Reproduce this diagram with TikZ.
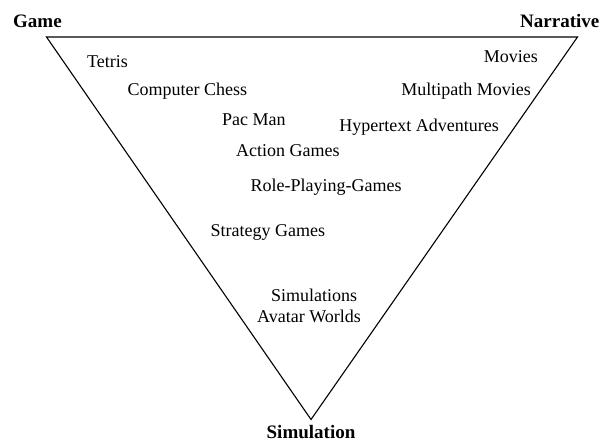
\documentclass[tikz,border=0pt]{standalone}
\usepackage{fontspec}
\setmainfont{Liberation Serif}
\begin{document}
\begin{tikzpicture}[x=1pt,y=-1pt,
  item/.style={anchor=base west,inner sep=0pt,font=\fontsize{18}{20}\selectfont},
  corner/.style={inner sep=0pt,font=\bfseries\fontsize{19}{21}\selectfont},
  edge/.style={draw=black,line width=1.1pt,line join=miter}]
\useasboundingbox (0,0) rectangle (601,442);
\coordinate (tl) at (46.5,37);
\coordinate (tr) at (577.5,37);
\coordinate (bt) at (311,419.5);
\draw[edge] (tl) -- (tr) -- (bt) -- cycle;
\node[corner,anchor=base west] (game) at (13,27) {Game};
\node[corner,anchor=base east] (narr) at (599.5,27) {Narrative};
\node[corner,anchor=base] (sim) at (311,438) {Simulation};
\node[item] (tetris) at (87,67) {Tetris};
\node[item] (chess) at (127.5,95) {Computer Chess};
\node[item] (pac) at (222,125) {Pac Man};
\node[item] (action) at (236,156) {Action Games};
\node[item] (rpg) at (250.5,191) {Role-Playing-Games};
\node[item] (strat) at (210.5,236) {Strategy Games};
\node[item,anchor=base] (sims) at (314,301) {Simulations};
\node[item,anchor=base] (avatar) at (309,322) {Avatar Worlds};
\node[item,anchor=base east] (movies) at (538,62) {Movies};
\node[item,anchor=base east] (multi) at (531,95) {Multipath Movies};
\node[item,anchor=base east] (hyper) at (499,131) {Hypertext Adventures};
\end{tikzpicture}
\end{document}
